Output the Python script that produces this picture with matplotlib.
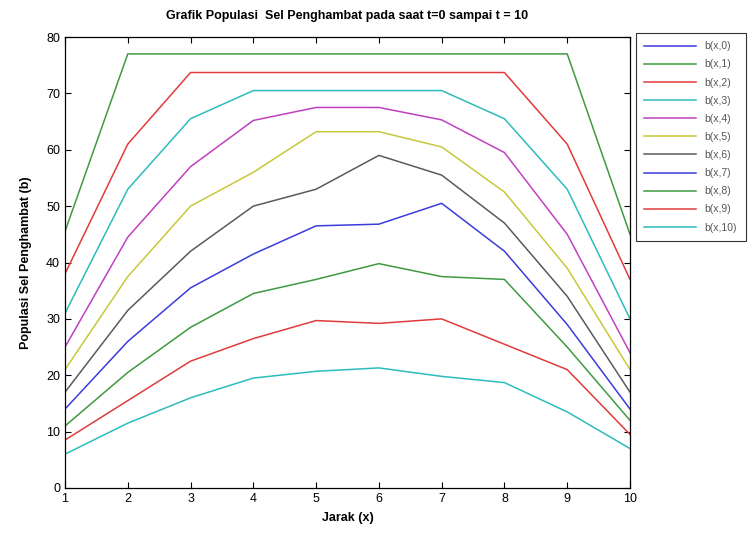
import matplotlib.pyplot as plt
import numpy as np

plt.rcParams['font.family'] = ['Liberation Sans', 'DejaVu Sans']

x = np.arange(1, 11)

# b(x,0) lies above the visible range (ylim 0-80)
b0 = [100, 100, 100, 100, 100, 100, 100, 100, 100, 100]
b1 = [45.5, 77, 77, 77, 77, 77, 77, 77, 77, 45]
b2 = [38, 61, 73.7, 73.7, 73.7, 73.7, 73.7, 73.7, 61, 37]
b3 = [31, 53, 65.5, 70.5, 70.5, 70.5, 70.5, 65.5, 53, 30]
b4 = [25, 44.5, 57, 65.2, 67.5, 67.5, 65.3, 59.5, 45, 24]
b5 = [21, 37.5, 50, 56, 63.2, 63.2, 60.5, 52.5, 39, 21]
b6 = [17, 31.5, 42, 50, 53, 59, 55.5, 47, 34, 17]
b7 = [14, 26, 35.5, 41.5, 46.5, 46.8, 50.5, 42, 29, 14]
b8 = [11, 20.5, 28.5, 34.5, 37, 39.8, 37.5, 37, 25, 12]
b9 = [8.5, 15.5, 22.5, 26.5, 29.7, 29.2, 30, 25.5, 21, 9.5]
b10 = [6, 11.5, 16, 19.5, 20.7, 21.3, 19.8, 18.7, 13.5, 7]

series = [b0, b1, b2, b3, b4, b5, b6, b7, b8, b9, b10]
labels = ['b(x,%d)' % i for i in range(11)]
colors = ['#3c3cdc', '#3f9a3f', '#e03c3c', '#2cbcbc', '#c040c0', '#c8c83c',
          '#5a5a5a', '#3c3cdc', '#3f9a3f', '#e03c3c', '#2cbcbc']

fig = plt.figure(figsize=(7.5, 5.33), dpi=100)
ax = fig.add_axes([65 / 750, 45 / 533, 565 / 750, 451 / 533])

for s, lab, c in zip(series, labels, colors):
    ax.plot(x, s, color=c, lw=1.1, label=lab)

ax.set_xlim(1, 10)
ax.set_ylim(0, 80)
ax.set_xticks(x)
ax.set_yticks(range(0, 81, 10))
ax.tick_params(direction='in', top=True, right=True, labelsize=9, length=4)
for sp in ax.spines.values():
    sp.set_linewidth(0.9)

ax.set_title('Grafik Populasi  Sel Penghambat pada saat t=0 sampai t = 10',
             fontsize=9, fontweight='bold', pad=13)
ax.set_xlabel('Jarak (x)', fontsize=9, fontweight='bold', labelpad=5)
ax.set_ylabel('Populasi Sel Penghambat (b)', fontsize=9, fontweight='bold', labelpad=10)

leg = ax.legend(loc='upper left', bbox_to_anchor=(636 / 750, 1 - 33 / 533),
                bbox_transform=fig.transFigure, fontsize=7.5, frameon=True,
                fancybox=False, edgecolor='black', handlelength=5,
                borderaxespad=0, labelspacing=0.78, borderpad=0.8,
                handletextpad=0.8)
leg.get_frame().set_linewidth(0.8)
for t in leg.get_texts():
    t.set_color('#555555')

fig.savefig('out.png', dpi=100)
